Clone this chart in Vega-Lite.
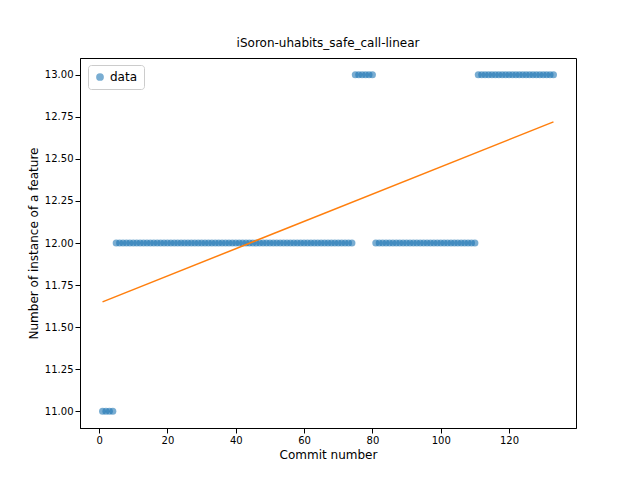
{
  "$schema": "https://vega.github.io/schema/vega-lite/v6.json",
  "width": 496,
  "height": 370,
  "padding": {"left": 80, "top": 58, "right": 64, "bottom": 52},
  "autosize": {"type": "none"},
  "background": "white",
  "config": {"view": {"stroke": "black"}, "font": "DejaVu Sans", "axis": {"grid": false, "domainColor": "black", "tickColor": "black", "labelColor": "black", "labelFontSize": 10, "titleFontSize": 12, "titleFontWeight": "normal", "labelFlush": false}},
  "title": {"text": "iSoron-uhabits_safe_call-linear", "fontSize": 12, "fontWeight": "normal", "offset": 8},
  "datasets": {
    "pts": [
      {"c":1,"n":11},{"c":2,"n":11},{"c":3,"n":11},{"c":4,"n":11},
      {"c":5,"n":12},{"c":6,"n":12},{"c":7,"n":12},{"c":8,"n":12},{"c":9,"n":12},{"c":10,"n":12},{"c":11,"n":12},{"c":12,"n":12},{"c":13,"n":12},{"c":14,"n":12},{"c":15,"n":12},{"c":16,"n":12},{"c":17,"n":12},{"c":18,"n":12},{"c":19,"n":12},{"c":20,"n":12},{"c":21,"n":12},{"c":22,"n":12},{"c":23,"n":12},{"c":24,"n":12},{"c":25,"n":12},{"c":26,"n":12},{"c":27,"n":12},{"c":28,"n":12},{"c":29,"n":12},{"c":30,"n":12},{"c":31,"n":12},{"c":32,"n":12},{"c":33,"n":12},{"c":34,"n":12},{"c":35,"n":12},{"c":36,"n":12},{"c":37,"n":12},{"c":38,"n":12},{"c":39,"n":12},{"c":40,"n":12},{"c":41,"n":12},{"c":42,"n":12},{"c":43,"n":12},{"c":44,"n":12},{"c":45,"n":12},{"c":46,"n":12},{"c":47,"n":12},{"c":48,"n":12},{"c":49,"n":12},{"c":50,"n":12},{"c":51,"n":12},{"c":52,"n":12},{"c":53,"n":12},{"c":54,"n":12},{"c":55,"n":12},{"c":56,"n":12},{"c":57,"n":12},{"c":58,"n":12},{"c":59,"n":12},{"c":60,"n":12},{"c":61,"n":12},{"c":62,"n":12},{"c":63,"n":12},{"c":64,"n":12},{"c":65,"n":12},{"c":66,"n":12},{"c":67,"n":12},{"c":68,"n":12},{"c":69,"n":12},{"c":70,"n":12},{"c":71,"n":12},{"c":72,"n":12},{"c":73,"n":12},{"c":74,"n":12},
      {"c":75,"n":13},{"c":76,"n":13},{"c":77,"n":13},{"c":78,"n":13},{"c":79,"n":13},{"c":80,"n":13},
      {"c":81,"n":12},{"c":82,"n":12},{"c":83,"n":12},{"c":84,"n":12},{"c":85,"n":12},{"c":86,"n":12},{"c":87,"n":12},{"c":88,"n":12},{"c":89,"n":12},{"c":90,"n":12},{"c":91,"n":12},{"c":92,"n":12},{"c":93,"n":12},{"c":94,"n":12},{"c":95,"n":12},{"c":96,"n":12},{"c":97,"n":12},{"c":98,"n":12},{"c":99,"n":12},{"c":100,"n":12},{"c":101,"n":12},{"c":102,"n":12},{"c":103,"n":12},{"c":104,"n":12},{"c":105,"n":12},{"c":106,"n":12},{"c":107,"n":12},{"c":108,"n":12},{"c":109,"n":12},{"c":110,"n":12},
      {"c":111,"n":13},{"c":112,"n":13},{"c":113,"n":13},{"c":114,"n":13},{"c":115,"n":13},{"c":116,"n":13},{"c":117,"n":13},{"c":118,"n":13},{"c":119,"n":13},{"c":120,"n":13},{"c":121,"n":13},{"c":122,"n":13},{"c":123,"n":13},{"c":124,"n":13},{"c":125,"n":13},{"c":126,"n":13},{"c":127,"n":13},{"c":128,"n":13},{"c":129,"n":13},{"c":130,"n":13},{"c":131,"n":13},{"c":132,"n":13},{"c":133,"n":13}
    ],
    "fit": [{"c":1,"n":11.65},{"c":133,"n":12.72}]
  },
  "layer": [
    {
      "data": {"name": "pts"},
      "mark": {"type": "circle", "size": 50, "opacity": 0.6, "color": "#1f77b4"},
      "encoding": {
        "x": {"field": "c", "type": "quantitative", "scale": {"domain": [-5.6, 139.6], "nice": false}, "axis": {"values": [0,20,40,60,80,100,120]}, "title": "Commit number"},
        "y": {"field": "n", "type": "quantitative", "scale": {"domain": [10.9, 13.1], "nice": false, "zero": false}, "axis": {"values": [11,11.25,11.5,11.75,12,12.25,12.5,12.75,13], "format": ".2f"}, "title": "Number of instance of a feature"},
        "fill": {"datum": "data", "type": "nominal", "scale": {"range": ["#1f77b4"]}, "legend": {"title": null, "orient": "none", "legendX": 8, "legendY": 7, "strokeColor": "#cccccc", "fillColor": "white", "padding": 6, "cornerRadius": 3, "labelFontSize": 12, "symbolOpacity": 0.6, "symbolSize": 60}}
      }
    },
    {
      "data": {"name": "fit"},
      "mark": {"type": "line", "color": "#ff7f0e", "strokeWidth": 1.5},
      "encoding": {"x": {"field": "c", "type": "quantitative"}, "y": {"field": "n", "type": "quantitative"}}
    }
  ]
}
